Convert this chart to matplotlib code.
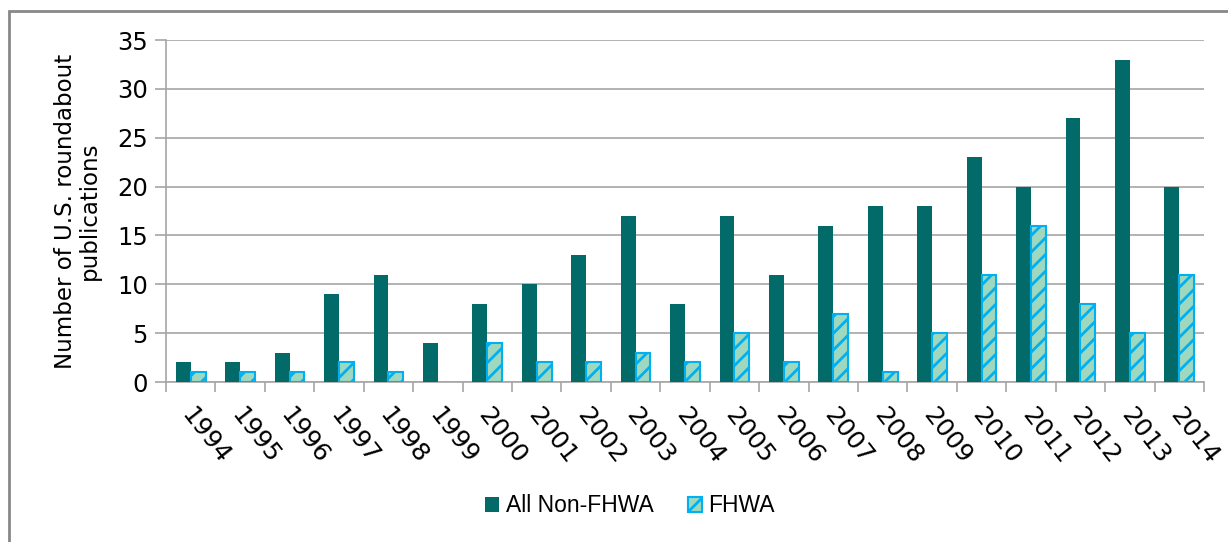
import matplotlib
matplotlib.use("Agg")
import matplotlib.pyplot as plt
import numpy as np
from matplotlib.patches import Rectangle
from matplotlib.transforms import ScaledTranslation
import matplotlib as mpl

years = ["1994", "1995", "1996", "1997", "1998", "1999", "2000", "2001", "2002", "2003",
         "2004", "2005", "2006", "2007", "2008", "2009", "2010", "2011", "2012", "2013", "2014"]
non_fhwa = [2, 2, 3, 9, 11, 4, 8, 10, 13, 17, 8, 17, 11, 16, 18, 18, 23, 20, 27, 33, 20]
fhwa = [1, 1, 1, 2, 1, 0, 4, 2, 2, 3, 2, 5, 2, 7, 1, 5, 11, 16, 8, 5, 11]

plt.rcParams['font.family'] = ['DejaVu Sans']
mpl.rcParams['hatch.color'] = '#00B0F0'
mpl.rcParams['hatch.linewidth'] = 2.0

W, H = 1228, 542
fig = plt.figure(figsize=(W / 100, H / 100), dpi=100)
ax = fig.add_axes([166 / W, 1 - 382 / H, (1204 - 166) / W, (382 - 40) / H])

x = np.arange(len(years))
bw = 0.3
ax.bar(x - bw / 2, non_fhwa, bw, color='#036A6A', label='All Non-FHWA', zorder=3)
ax.bar(x + bw / 2, fhwa, bw, color='#9ED8BE', edgecolor='#00B0F0',
       linewidth=[1.5 if v > 0 else 0 for v in fhwa],
       hatch='//', label='FHWA', zorder=3)

ax.set_xlim(-0.5, len(years) - 0.5)
ax.set_ylim(0, 35)
ax.set_yticks(np.arange(0, 36, 5))
ax.yaxis.grid(True, color='#A6A6A6', linewidth=1.2, zorder=0)
ax.set_axisbelow(True)

ax.set_xticks(np.arange(-0.5, len(years), 1.0))
ax.set_xticklabels([])
ax.set_xticks(x, minor=True)
ax.set_xticklabels(years, minor=True, rotation=-52, ha='left', va='top',
                   rotation_mode='anchor', fontsize=18)
ax.tick_params(axis='x', which='major', length=7, width=1.2, color='#A6A6A6', direction='out')
ax.tick_params(axis='x', which='minor', length=0, pad=15)
ax.tick_params(axis='y', length=8, width=1.2, color='#A6A6A6', labelsize=17.5, pad=5)
off = ScaledTranslation(5 / 100, 0, fig.dpi_scale_trans)
for lbl in ax.get_xticklabels(minor=True):
    lbl.set_transform(lbl.get_transform() + off)

for s in ['top', 'right']:
    ax.spines[s].set_visible(False)
for s in ['left', 'bottom']:
    ax.spines[s].set_color('#A6A6A6')
    ax.spines[s].set_linewidth(1.2)

ax.set_ylabel('Number of U.S. roundabout\npublications', fontsize=16.5,
              linespacing=1.0, labelpad=12)

leg = fig.legend(loc='center', bbox_to_anchor=(630 / W, 1 - 506 / H), ncol=2, frameon=False,
                 prop={'family': ['Liberation Sans'], 'size': 16.5},
                 handlelength=0.6, handleheight=0.6, handletextpad=0.3,
                 columnspacing=1.5)

fig.patches.append(Rectangle((9 / W, -0.1), 1.2, 1 - 11 / H + 0.1, transform=fig.transFigure,
                             fill=False, edgecolor='#888888', linewidth=2))

fig.savefig('out.png', dpi=100)
